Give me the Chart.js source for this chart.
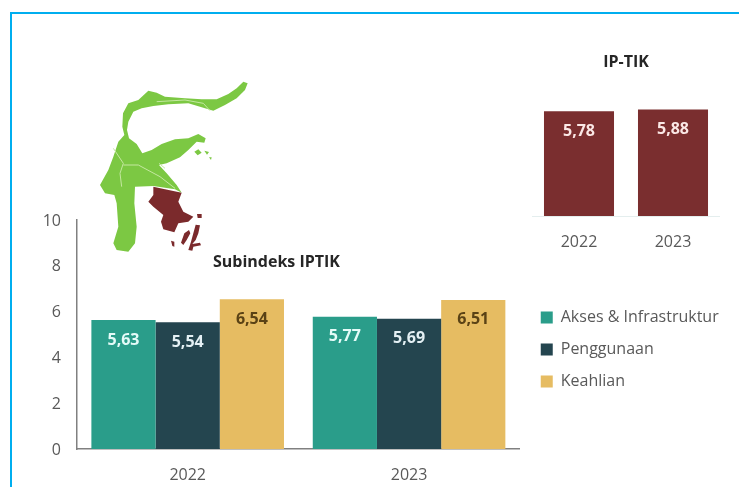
<!DOCTYPE html>
<html><head><meta charset="utf-8">
<style>
html,body{margin:0;padding:0;background:#fff;width:739px;height:487px;overflow:hidden;}
#frame{position:absolute;left:10px;top:12px;width:729px;height:475px;border-left:2px solid #00aeef;border-top:2px solid #00aeef;box-sizing:border-box;}
#map{position:absolute;left:85px;top:70px;filter:blur(.5px);}
#main{position:absolute;left:0;top:0;}
#top{position:absolute;left:532px;top:40px;}
</style></head><body>
<div id="frame"></div>
<svg id="map" width="170" height="190" viewBox="0 0 510 570">
<path fill="#7cc843" d="M130 100L160 90L190 62L215 68L240 80L300 85L350 88L395 88L430 72L455 55L475 35L488 40L480 60L455 85L420 105L385 122L350 112L310 100L250 103L205 108L170 115L145 125L130 155L126 180L132 205L155 222L172 250L200 240L230 222L270 208L310 205L340 192L362 205L358 218L335 215L310 240L285 262L245 280L222 285L245 310L275 345L290 368L270 358L205 348L150 350L148 400L155 470L150 520L130 545L95 540L85 520L100 470L95 400L88 375L60 370L45 345L70 300L85 260L100 215L118 195L112 170L114 130Z"/>
<path fill="#7cc843" d="M328 245L340 238L350 248L338 256ZM358 242L372 246L366 254ZM372 262L380 262L378 270Z"/>
<path fill="none" stroke="#c4e8a0" stroke-width="3" d="M85 235L115 280L105 310L110 350M115 285L160 285L225 320L270 355M222 280L240 295M215 95L300 90L355 100L375 122"/>
<path fill="#7b2a2c" d="M205 350L240 358L290 368L280 395L295 425L325 440L310 455L280 460L268 487L235 478L228 455L235 435L205 410L190 395L205 375Z"/>
<path fill="#7b2a2c" d="M336 432L350 432L350 444L338 444ZM332 464L345 466L340 490L332 510L322 522L345 518L348 526L325 530L322 542L310 540L318 515ZM298 490L312 480L316 490L305 510L295 525L288 518ZM258 512L268 515L268 530L262 528Z"/>
</svg>
<canvas id="main" width="739" height="487"></canvas>
<canvas id="top" width="188" height="215"></canvas>
<script src="https://cdn.jsdelivr.net/npm/chart.js@4"></script>
<script>
const years = ["2022", "2023"];
const subTitle = "Subindeks IPTIK";
const topTitle = "IP-TIK";
const seriesNames = ["Akses & Infrastruktur", "Penggunaan", "Keahlian"];
const akses = [5.63, 5.77];
const penggunaan = [5.54, 5.69];
const keahlian = [6.54, 6.51];
const ipTik = [5.78, 5.88];
const yTicks = [0, 2, 4, 6, 8, 10];

const FONT = '"Open Sans", sans-serif';
const TEXT = '#595959';
const SIZE = 16;

const barLabels = {
  id: 'barLabels',
  afterDatasetsDraw(chart) {
    const ctx = chart.ctx;
    chart.data.datasets.forEach((ds, i) => {
      chart.getDatasetMeta(i).data.forEach((bar, j) => {
        ctx.save();
        ctx.font = 'bold 16px ' + FONT;
        ctx.fillStyle = ds.labelColor;
        ctx.textAlign = 'center';
        ctx.textBaseline = 'middle';
        ctx.fillText(ds.data[j].toFixed(2).replace('.', ','), bar.x, bar.y + 20);
        ctx.restore();
      });
    });
  }
};

const insideTitle = {
  id: 'insideTitle',
  afterDraw(chart) {
    const ctx = chart.ctx;
    ctx.save();
    ctx.font = 'bold 16px ' + FONT;
    ctx.fillStyle = '#262626';
    ctx.textAlign = 'center';
    ctx.textBaseline = 'middle';
    ctx.fillText(subTitle, 276.5, 262);
    ctx.restore();
  }
};

const legendNudge = {
  id: 'legendNudge',
  afterLayout(chart) {
    chart.legend.left += 5;
    chart.legend.right = 739;
    chart.legend.top -= 4;
    chart.legend.bottom -= 4;
  }
};

new Chart(document.getElementById('main'), {
  type: 'bar',
  data: {
    labels: years,
    datasets: [
      { label: seriesNames[0], data: akses, backgroundColor: '#2a9d8a', labelColor: '#e4fbf8' },
      { label: seriesNames[1], data: penggunaan, backgroundColor: '#24454f', labelColor: '#e4f0f4' },
      { label: seriesNames[2], data: keahlian, backgroundColor: '#e6bc62', labelColor: '#5a4215' }
    ]
  },
  plugins: [barLabels, insideTitle, legendNudge],
  options: {
    responsive: false,
    animation: false,
    layout: { padding: { top: 220, left: 0, right: 46, bottom: 0 } },
    datasets: { bar: { categoryPercentage: 0.87, barPercentage: 1 } },
    plugins: {
      tooltip: { enabled: false },
      title: { display: false },
      legend: {
        position: 'right',
        labels: {
          boxWidth: 12, boxHeight: 12, padding: 16,
          color: TEXT,
          font: { family: FONT, size: SIZE }
        }
      }
    },
    scales: {
      x: {
        grid: { display: false, drawTicks: false },
        border: { color: '#808080', width: 1.5 },
        ticks: { color: TEXT, font: { family: FONT, size: SIZE }, padding: 17 },
        afterFit(s) { s.height = 38; }
      },
      y: {
        min: 0, max: 10,
        afterBuildTicks(s) { s.ticks = yTicks.map(v => ({ value: v })); },
        grid: { display: false, drawTicks: false },
        border: { color: '#808080', width: 1.5 },
        ticks: { color: TEXT, font: { family: FONT, size: SIZE }, padding: 16, labelOffset: 1 },
        afterFit(s) { s.width = 77; }
      }
    }
  }
});

new Chart(document.getElementById('top'), {
  type: 'bar',
  data: {
    labels: years,
    datasets: [{ label: topTitle, data: ipTik, backgroundColor: '#7a2e2f', labelColor: '#fbe8e6' }]
  },
  plugins: [barLabels],
  options: {
    responsive: false,
    animation: false,
    datasets: { bar: { categoryPercentage: 0.745, barPercentage: 1 } },
    plugins: {
      tooltip: { enabled: false },
      legend: { display: false },
      title: {
        display: true, text: topTitle, color: '#262626',
        font: { family: FONT, size: SIZE, weight: 'bold' },
        padding: { top: 13, bottom: 35 }
      }
    },
    scales: {
      x: {
        grid: { display: false, drawTicks: false },
        border: { color: '#e4eeee', width: 1 },
        ticks: { color: TEXT, font: { family: FONT, size: SIZE }, padding: 17 },
        afterFit(s) { s.height = 39; }
      },
      y: { display: false, min: 0, max: 6 }
    }
  }
});
</script>
</body></html>
